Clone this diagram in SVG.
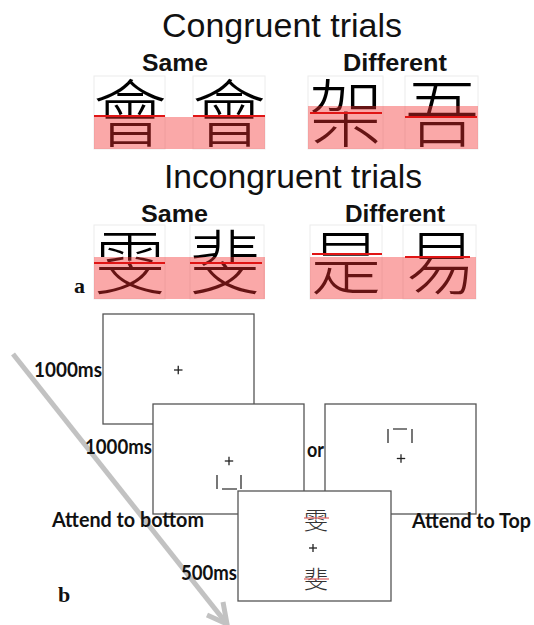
<svg xmlns="http://www.w3.org/2000/svg" width="534" height="625" viewBox="0 0 534 625">
<style>
.h{font-family:"Liberation Sans",Arial,sans-serif;font-size:34px;fill:#111}
.sub{font-family:"Liberation Sans",Arial,sans-serif;font-weight:bold;font-size:23px;fill:#111}
.cjk{font-family:"Noto Sans CJK TC","Noto Sans CJK SC",sans-serif;font-weight:300;fill:#000;text-anchor:middle}
.frame{fill:#fff;stroke:#ececec;stroke-width:1}
.pink{fill:#f23030;opacity:0.42}
.red{stroke:#e01515;stroke-width:2}
.lbl{font-family:Lato,"Open Sans",sans-serif;font-weight:bold;font-size:20px;fill:#111}
.tag{font-family:"Liberation Serif",serif;font-weight:bold;font-size:22px;fill:#111}
.box{fill:#fff;stroke:#555;stroke-width:1.3}
.fix{stroke:#222;stroke-width:1.3}
.brk{stroke:#555;stroke-width:1.6;fill:none}
.arrow{stroke:#c2c2c2;stroke-width:5;fill:none}
.small{font-family:"Noto Sans CJK TC","Noto Sans CJK SC",sans-serif;font-weight:300;font-size:24px;fill:#333;text-anchor:middle}
.thin{stroke:#e06060;stroke-width:1.2}
</style>

<!-- Panel a: Congruent -->
<g id="congruent-title"><text class="h" x="162" y="37" textLength="240" lengthAdjust="spacingAndGlyphs">Congruent trials</text></g>
<g id="congruent-same-label"><text class="sub" x="142" y="71" textLength="66" lengthAdjust="spacingAndGlyphs">Same</text></g>
<g id="congruent-diff-label"><text class="sub" x="343" y="71" textLength="104" lengthAdjust="spacingAndGlyphs">Different</text></g>

<g id="congruent-same">
  <rect class="frame" x="94" y="76" width="71" height="73"/>
  <rect class="frame" x="193" y="76" width="72" height="73"/>
  <text class="cjk" x="130" y="141" font-size="74">會</text>
  <text class="cjk" x="229" y="141" font-size="74">會</text>
  <rect class="pink" x="94" y="117" width="171" height="32"/>
  <line class="red" x1="94" y1="116" x2="165" y2="116"/>
  <line class="red" x1="193" y1="116" x2="265" y2="116"/>
</g>
<g id="congruent-different">
  <rect class="frame" x="308" y="76" width="75" height="73"/>
  <rect class="frame" x="405" y="76" width="73" height="73"/>
  <text class="cjk" x="346" y="141" font-size="74">架</text>
  <text class="cjk" x="442" y="141" font-size="74">吾</text>
  <rect class="pink" x="308" y="106" width="170" height="43"/>
  <line class="red" x1="310" y1="113" x2="382" y2="113"/>
  <line class="red" x1="405" y1="117" x2="477" y2="117"/>
</g>

<!-- Panel a: Incongruent -->
<g id="incongruent-title"><text class="h" x="164" y="188" textLength="258" lengthAdjust="spacingAndGlyphs">Incongruent trials</text></g>
<g id="incongruent-same-label"><text class="sub" x="141" y="222" textLength="67" lengthAdjust="spacingAndGlyphs">Same</text></g>
<g id="incongruent-diff-label"><text class="sub" x="345" y="222" textLength="100" lengthAdjust="spacingAndGlyphs">Different</text></g>

<g id="incongruent-same">
  <rect class="frame" x="94" y="225" width="71" height="74"/>
  <rect class="frame" x="190" y="225" width="74" height="74"/>
  <text class="cjk" x="130" y="289" font-size="70">雯</text>
  <text class="cjk" x="225" y="289" font-size="70">斐</text>
  <rect class="pink" x="94" y="257" width="171" height="42"/>
  <line class="red" x1="94" y1="263" x2="165" y2="263"/>
  <line class="red" x1="190" y1="263" x2="262" y2="263"/>
</g>
<g id="incongruent-different">
  <rect class="frame" x="310" y="225" width="72" height="74"/>
  <rect class="frame" x="403" y="225" width="73" height="74"/>
  <text class="cjk" x="346" y="289" font-size="70">是</text>
  <text class="cjk" x="441" y="289" font-size="70">易</text>
  <rect class="pink" x="310" y="257" width="166" height="42"/>
  <line class="red" x1="312" y1="254" x2="382" y2="254"/>
  <line class="red" x1="405" y1="257" x2="470" y2="257"/>
</g>
<g id="label-a"><text class="tag" x="74" y="293">a</text></g>

<!-- Panel b: connectors -->
<g id="connectors">
  <line class="arrow" x1="13" y1="354" x2="227" y2="624"/>
  <polyline class="arrow" points="207,615 227,624 223,602"/>
</g>

<g id="screen-fixation">
  <rect class="box" x="103" y="314" width="151" height="110"/>
  <line class="fix" x1="174" y1="370" x2="182.5" y2="370"/>
  <line class="fix" x1="178.25" y1="365.7" x2="178.25" y2="374.3"/>
</g>
<g id="screen-cue-bottom">
  <rect class="box" x="153" y="404" width="151" height="110"/>
  <line class="fix" x1="224.8" y1="461" x2="233.2" y2="461"/>
  <line class="fix" x1="229" y1="456.8" x2="229" y2="465.2"/>
  <path class="brk" d="M217 475V489M241 475V489M222 489H237"/>
</g>
<g id="screen-cue-top">
  <rect class="box" x="325" y="404" width="151" height="110"/>
  <line class="fix" x1="396.8" y1="458.5" x2="405.2" y2="458.5"/>
  <line class="fix" x1="401" y1="454.3" x2="401" y2="462.7"/>
  <path class="brk" d="M388 429V443M412 429V443M393 429H407"/>
</g>
<g id="screen-target">
  <rect class="box" x="238" y="491" width="153" height="110"/>
  <text class="small" x="316" y="529">雯</text>
  <line class="thin" x1="304" y1="518" x2="329" y2="518"/>
  <line class="fix" x1="309" y1="548" x2="317" y2="548"/>
  <line class="fix" x1="313" y1="544" x2="313" y2="552"/>
  <text class="small" x="316" y="588">斐</text>
  <line class="thin" x1="304" y1="579" x2="329" y2="579"/>
</g>

<g id="labels">
  <text class="lbl" x="34" y="377" textLength="68" lengthAdjust="spacingAndGlyphs">1000ms</text>
  <text class="lbl" x="85" y="454" textLength="67" lengthAdjust="spacingAndGlyphs">1000ms</text>
  <text class="lbl" x="307" y="457" textLength="17" lengthAdjust="spacingAndGlyphs">or</text>
  <text class="lbl" x="52" y="527" textLength="152" lengthAdjust="spacingAndGlyphs">Attend to bottom</text>
  <text class="lbl" x="412" y="528" textLength="119" lengthAdjust="spacingAndGlyphs">Attend to Top</text>
  <text class="lbl" x="181" y="580" textLength="56" lengthAdjust="spacingAndGlyphs">500ms</text>
</g>
<g id="label-b"><text class="tag" x="58" y="602">b</text></g>
</svg>
